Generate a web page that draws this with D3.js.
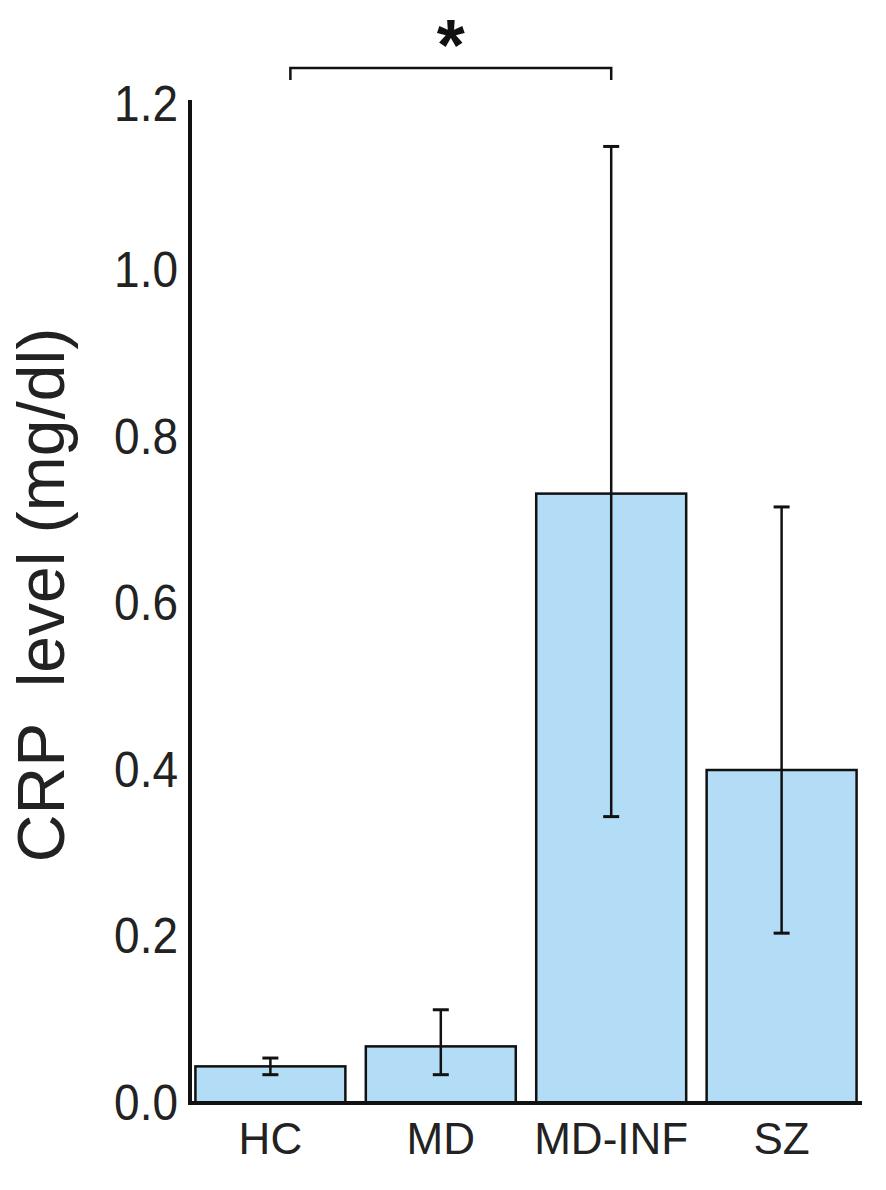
<!DOCTYPE html>
<html><head><meta charset="utf-8">
<script src="https://cdn.jsdelivr.net/npm/d3@7"></script>
<style>body{margin:0;background:#fff}</style></head>
<body><script>
const categories=["HC","MD","MD-INF","SZ"];
const means=[0.044,0.068,0.732,0.40];
const errLow=[0.034,0.034,0.344,0.204];
const errHigh=[0.054,0.112,1.149,0.716];
const yTicks=[0,0.2,0.4,0.6,0.8,1.0,1.2];

const W=886,H=1190;
const svg=d3.select("body").append("svg").attr("width",W).attr("height",H);
const font="Liberation Sans, Arial, sans-serif";
const x=d3.scaleBand().domain(categories).range([192,860]).paddingInner(0.12).paddingOuter(0.02);
const y=d3.scaleLinear().domain([0,1.2]).range([1103,104]);

svg.selectAll("rect.bar").data(categories).join("rect")
 .attr("x",d=>x(d)).attr("width",x.bandwidth())
 .attr("y",(d,i)=>y(means[i])).attr("height",(d,i)=>y(0)-y(means[i]))
 .attr("fill","#b3dcf7").attr("stroke","#111").attr("stroke-width",2.5);

const g=svg.append("g");
categories.forEach((c,i)=>{
 const cx=x(c)+x.bandwidth()/2;
 g.append("line").attr("x1",cx).attr("x2",cx).attr("y1",y(errLow[i])).attr("y2",y(errHigh[i])).attr("stroke","#111").attr("stroke-width",2.5);
 [errLow[i],errHigh[i]].forEach(v=>g.append("line").attr("x1",cx-8).attr("x2",cx+8).attr("y1",y(v)).attr("y2",y(v)).attr("stroke","#111").attr("stroke-width",3));
});

const ya=svg.append("g").attr("transform","translate(190,0)").call(d3.axisLeft(y).tickValues(yTicks).tickFormat(d3.format(".1f")).tickSize(0).tickPadding(12));
ya.select(".domain").attr("stroke","#111").attr("stroke-width",4).attr("d","M0,100V1103");
ya.selectAll("text").attr("font-family",font).attr("font-size",50).attr("fill","#222").attr("transform","scale(0.92,1)").attr("x",-12/0.92);

const xa=svg.append("g").attr("transform","translate(0,1103)").call(d3.axisBottom(x).tickSize(0).tickPadding(20));
xa.select(".domain").attr("stroke","#111").attr("stroke-width",4).attr("d","M188,0H862");
xa.selectAll("text").attr("font-family",font).attr("font-size",44).attr("fill","#222");

svg.append("text").attr("transform","translate(64,595) rotate(-90)").attr("text-anchor","middle")
 .attr("font-family",font).attr("font-size",66).attr("fill","#222").attr("xml:space","preserve").text("CRP  level (mg/dl)");

const bx1=x("HC")+x.bandwidth()/2+20, bx2=x("MD-INF")+x.bandwidth()/2;
svg.append("path").attr("d",`M${bx1},80V68H${bx2}V80`).attr("fill","none").attr("stroke","#111").attr("stroke-width",2.5);
svg.append("text").attr("x",(bx1+bx2)/2).attr("y",70).attr("text-anchor","middle").attr("font-family",font).attr("font-size",72).attr("font-weight","bold").attr("fill","#111").text("*");
</script></body></html>
